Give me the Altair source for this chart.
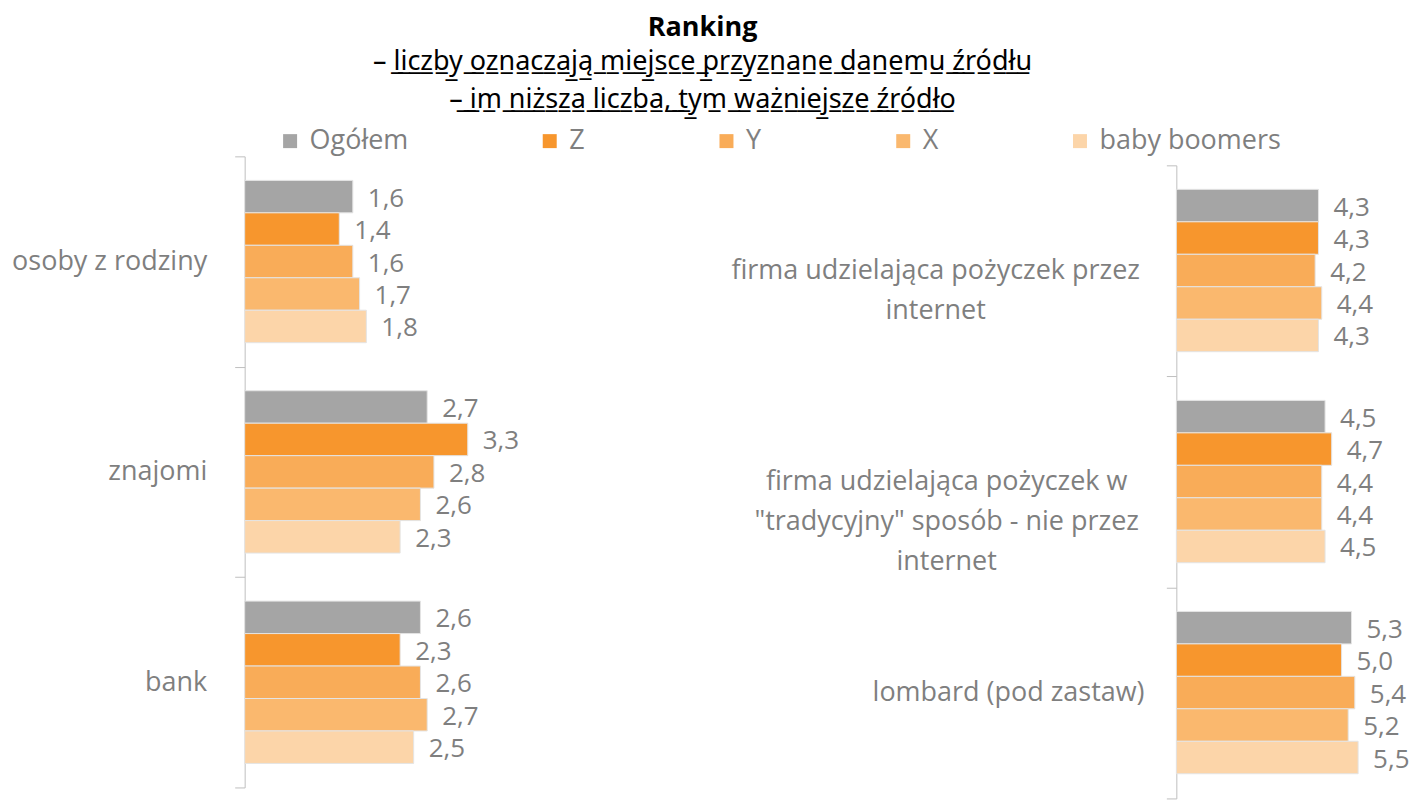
import altair as alt
import pandas as pd

# ---------------- data ----------------
series = ["Ogółem", "Z", "Y", "X", "baby boomers"]
series_colors = ["#A5A5A5", "#F7962D", "#F9AC58", "#FAB86E", "#FCD5A9"]

left_categories = ["osoby z rodziny", "znajomi", "bank"]
left_ogolem = [1.6, 2.7, 2.6]
left_z = [1.4, 3.3, 2.3]
left_y = [1.6, 2.8, 2.6]
left_x = [1.7, 2.6, 2.7]
left_bb = [1.8, 2.3, 2.5]

right_categories = [
    "firma udzielająca pożyczek przez internet",
    "firma udzielająca pożyczek w \"tradycyjny\" sposób - nie przez internet",
    "lombard (pod zastaw)",
]
right_label_lines = [
    ["firma udzielająca pożyczek przez", "internet"],
    ["firma udzielająca pożyczek w", "\"tradycyjny\" sposób - nie przez", "internet"],
    ["lombard (pod zastaw)"],
]
right_ogolem = [4.3, 4.5, 5.3]
right_z = [4.3, 4.7, 5.0]
right_y = [4.2, 4.4, 5.4]
right_x = [4.4, 4.4, 5.2]
right_bb = [4.3, 4.5, 5.5]

title_text = "Ranking"
subtitle_prefix = ["– ", ""]
subtitle_underlined = [
    "liczby oznaczają miejsce przyznane danemu źródłu",
    "– im niższa liczba, tym ważniejsze źródło",
]

# ---------------- styling ----------------
FONT = "Open Sans"
LABEL_GRAY = "#7F7F7F"
AXIS_GRAY = "#BFBFBF"


def long_df(cats, cols):
    rows = []
    for s, vals in zip(series, cols):
        for c, v in zip(cats, vals):
            rows.append({"kategoria": c, "grupa": s, "wartosc": v,
                         "etykieta": f"{v:.1f}".replace(".", ",")})
    return pd.DataFrame(rows)


left_df = long_df(left_categories, [left_ogolem, left_z, left_y, left_x, left_bb])
right_df = long_df(right_categories, [right_ogolem, right_z, right_y, right_x, right_bb])

legend = alt.Legend(
    orient="none", legendX=32, legendY=-29, direction="horizontal", title=None,
    symbolType="square", symbolSize=196, symbolStrokeWidth=0,
    labelFont=FONT, labelFontSize=27, labelColor=LABEL_GRAY, labelOffset=6,
    columnPadding=128, labelLimit=400,
)
color = alt.Color("grupa:N", scale=alt.Scale(domain=series, range=series_colors),
                  legend=legend)


def make_y(cats, show_labels, y_range=None):
    sc = dict(domain=cats, paddingInner=0, paddingOuter=0)
    if y_range is not None:
        sc["range"] = y_range
    return alt.Y(
        "kategoria:N", scale=alt.Scale(**sc),
        axis=alt.Axis(title=None, labels=show_labels, tickBand="extent", tickSize=10,
                      tickColor=AXIS_GRAY, domainColor=AXIS_GRAY, labelFont=FONT,
                      labelFontSize=27, labelColor=LABEL_GRAY, labelPadding=28,
                      labelLimit=400),
    )


def panel(df, cats, x_max, show_labels=True, y_range=None):
    y = make_y(cats, show_labels, y_range)
    x = alt.X("wartosc:Q", scale=alt.Scale(domain=[0, x_max], nice=False), axis=None)
    yoff = alt.YOffset("grupa:N", sort=series,
                       scale=alt.Scale(domain=series, paddingInner=0, paddingOuter=0.74))
    bars = alt.Chart(df).mark_bar(stroke="#E4E4E4", strokeWidth=1).encode(
        x=x, y=y, yOffset=yoff, color=color)
    texts = alt.Chart(df).mark_text(
        align="left", baseline="middle", dx=15, dy=2, font=FONT, fontSize=26,
        color=LABEL_GRAY).encode(x=x, y=y, yOffset=yoff, text="etykieta:N")
    return [bars, texts], y


LEFT_W, LEFT_H = 300, 632
RIGHT_W, RIGHT_H = 226, 643

left_layers, _ = panel(left_df, left_categories, LEFT_W / 67.7)
left = alt.layer(*left_layers).properties(width=LEFT_W, height=LEFT_H)

right_layers, right_y_enc = panel(right_df, right_categories, RIGHT_W / 33.1,
                                  show_labels=False, y_range=[9, RIGHT_H])
right_label_df = pd.DataFrame({"nr": list(range(len(right_categories))),
                               "kategoria": right_categories,
                               "linie": right_label_lines})
right_label_dx = [-241, -230, -168]
label_layers = []
for i, dx in enumerate(right_label_dx):
    label_layers.append(
        alt.Chart(right_label_df).transform_filter(alt.datum.nr == i).mark_text(
            align="center", baseline="middle", dx=dx, font=FONT, fontSize=27,
            color=LABEL_GRAY, lineHeight=40,
        ).encode(x=alt.value(0), y=right_y_enc, text=alt.Text("linie:N"))
    )
right = alt.layer(*right_layers, *label_layers).properties(width=RIGHT_W, height=RIGHT_H)


def underline(s):
    return "".join(ch + "\u0332" for ch in s)


subtitles = [p + underline(t) for p, t in zip(subtitle_prefix, subtitle_underlined)]

chart = alt.hconcat(left, right, spacing=633, bounds="flush").properties(
    title=alt.Title(
        text=title_text, subtitle=subtitles,
        anchor="middle", dx=-8, font=FONT, fontSize=27, fontWeight="bold",
        color="#000000", subtitleFont="Noto Sans", subtitleFontSize=27,
        subtitleColor="#000000", subtitleLineHeight=38, subtitlePadding=8, offset=13,
    ),
    padding={"left": 3, "top": 5, "right": 0, "bottom": 0},
).configure_view(stroke=None)

chart.save("out.html", embed_options={"renderer": "svg", "actions": False})
